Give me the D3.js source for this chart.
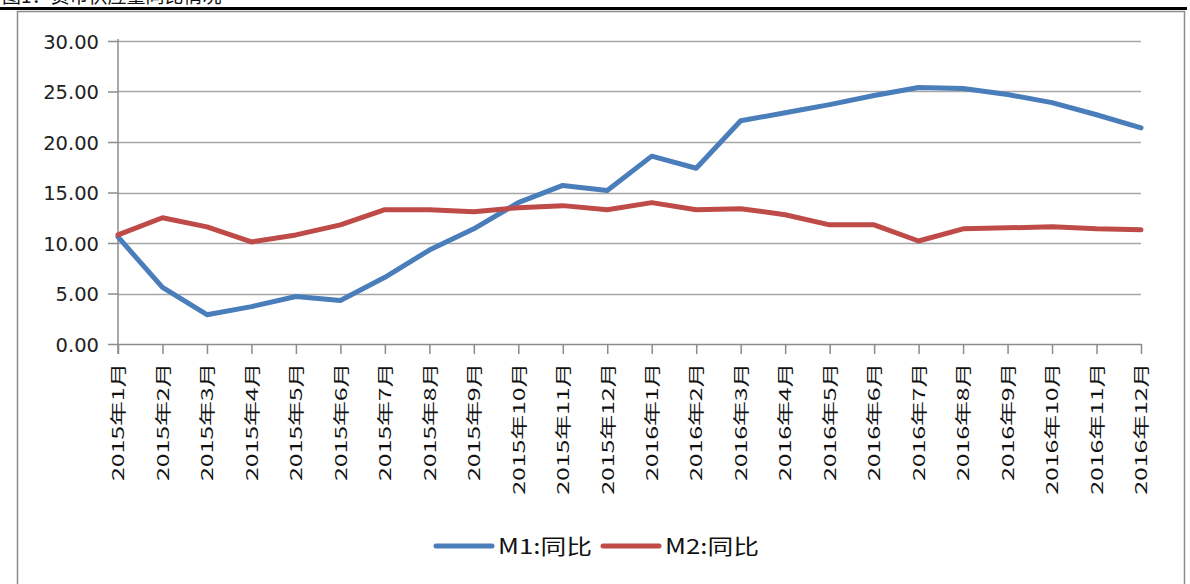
<!DOCTYPE html>
<html>
<head>
<meta charset="utf-8">
<script src="https://cdn.jsdelivr.net/npm/d3@7"></script>
<style>
  body { margin: 0; background: #fff; }
  svg { display: block; font-family: "Liberation Sans", Arial, sans-serif; }
</style>
</head>
<body>
<div id="chart"></div>
<script>
// data
var months = ["2015年1月","2015年2月","2015年3月","2015年4月","2015年5月","2015年6月",
  "2015年7月","2015年8月","2015年9月","2015年10月","2015年11月","2015年12月",
  "2016年1月","2016年2月","2016年3月","2016年4月","2016年5月","2016年6月",
  "2016年7月","2016年8月","2016年9月","2016年10月","2016年11月","2016年12月"];
var m1 = [10.6, 5.6, 2.9, 3.7, 4.7, 4.3, 6.6, 9.3, 11.4, 14.0, 15.7, 15.2,
  18.6, 17.4, 22.1, 22.9, 23.7, 24.6, 25.4, 25.3, 24.7, 23.9, 22.7, 21.4];
var m2 = [10.8, 12.5, 11.6, 10.1, 10.8, 11.8, 13.3, 13.3, 13.1, 13.5, 13.7, 13.3,
  14.0, 13.3, 13.4, 12.8, 11.8, 11.8, 10.2, 11.4, 11.5, 11.6, 11.4, 11.3];
var yTicks = [0, 5, 10, 15, 20, 25, 30];
var seriesNames = ["M1:同比", "M2:同比"];

var svgWidth = 1190;
var svgHeight = 584;
var margin = {left: 118, right: 49, top: 41, bottom: 240};
var chartWidth = svgWidth - margin.left - margin.right;
var chartHeight = svgHeight - margin.top - margin.bottom;

var svg = d3.select("#chart").append("svg")
  .attr("width", svgWidth).attr("height", svgHeight);

// title above the chart, cut off by the page top as in the source
svg.append("text")
  .attr("x", 2).attr("y", 3)
  .style("font-family", "'Noto Sans CJK SC', sans-serif")
  .style("font-size", "19px")
  .attr("fill", "#111")
  .text("图1：货币供应量同比情况");

svg.append("line")
  .attr("x1", 0).attr("x2", 1187).attr("y1", 8.5).attr("y2", 8.5)
  .attr("stroke", "#000").attr("stroke-width", 3);

// chart frame
svg.append("rect")
  .attr("x", 17.5).attr("y", 11.5)
  .attr("width", 1167).attr("height", 600)
  .attr("fill", "#fff").attr("stroke", "#8c8c8c").attr("stroke-width", 1.5);

var chartGroup = svg.append("g")
  .attr("transform", `translate(${margin.left},${margin.top})`);

var xScale = d3.scalePoint().domain(months).range([0, chartWidth]);
var yScale = d3.scaleLinear().domain([0, 30]).range([chartHeight, 0]);

// gridlines
chartGroup.append("g").selectAll("line")
  .data(yTicks.filter(d => d > 0))
  .enter().append("line")
  .attr("x1", 0).attr("x2", chartWidth)
  .attr("y1", d => Math.round(yScale(d)) + 0.5)
  .attr("y2", d => Math.round(yScale(d)) + 0.5)
  .attr("stroke", "#a6a6a6").attr("stroke-width", 1.5);

// y axis
var yAxis = chartGroup.append("g")
  .call(d3.axisLeft(yScale).tickValues(yTicks).tickFormat(d3.format(".2f"))
    .tickSize(10).tickPadding(9));
yAxis.select(".domain").remove();
yAxis.selectAll(".tick line").attr("stroke", "#8c8c8c").attr("stroke-width", 1.5);
yAxis.selectAll("text")
  .style("font-size", "19.5px").attr("fill", "#222")
  .style("font-family", "'DejaVu Sans', sans-serif").attr("dy", "0.36em");
chartGroup.append("line")
  .attr("x1", 0).attr("x2", 0).attr("y1", -2).attr("y2", chartHeight + 10)
  .attr("stroke", "#8c8c8c").attr("stroke-width", 1.5);

// x axis
var xAxis = chartGroup.append("g")
  .attr("transform", `translate(0,${chartHeight})`)
  .call(d3.axisBottom(xScale).tickSize(10).tickSizeOuter(0).tickPadding(0));
xAxis.select(".domain").attr("stroke", "#8c8c8c").attr("stroke-width", 1.5);
xAxis.selectAll(".tick line").attr("stroke", "#8c8c8c").attr("stroke-width", 1.5);
// labels are stretched along their length in the source
xAxis.selectAll("text")
  .attr("transform", "rotate(-90) scale(1.55,1)")
  .attr("x", -12).attr("y", 0).attr("dy", "0.36em")
  .style("text-anchor", "end")
  .style("font-size", "16px").attr("fill", "#111")
  .style("font-family", "'Noto Sans CJK SC', sans-serif");

// lines
var lineGen = d3.line()
  .x((d, i) => xScale(months[i]))
  .y(d => yScale(d));

var colors = ["#4a7ebb", "#be4b48"];
[m1, m2].forEach(function(series, k) {
  chartGroup.append("path")
    .datum(series)
    .attr("d", lineGen)
    .attr("fill", "none")
    .attr("stroke", colors[k])
    .attr("stroke-width", 5)
    .attr("stroke-linejoin", "round")
    .attr("stroke-linecap", "round");
});

// legend
var legendX = [436, 603];
var legend = svg.append("g");
seriesNames.forEach(function(name, k) {
  legend.append("line")
    .attr("x1", legendX[k]).attr("x2", legendX[k] + 56)
    .attr("y1", 546).attr("y2", 546)
    .attr("stroke", colors[k]).attr("stroke-width", 5)
    .attr("stroke-linecap", "round");
  legend.append("text")
    .attr("x", legendX[k] + 62).attr("y", 554)
    .attr("textLength", 94).attr("lengthAdjust", "spacingAndGlyphs")
    .style("font-family", "'Noto Sans CJK SC', sans-serif")
    .style("font-size", "21px").attr("fill", "#111")
    .text(name);
});
</script>
</body>
</html>
